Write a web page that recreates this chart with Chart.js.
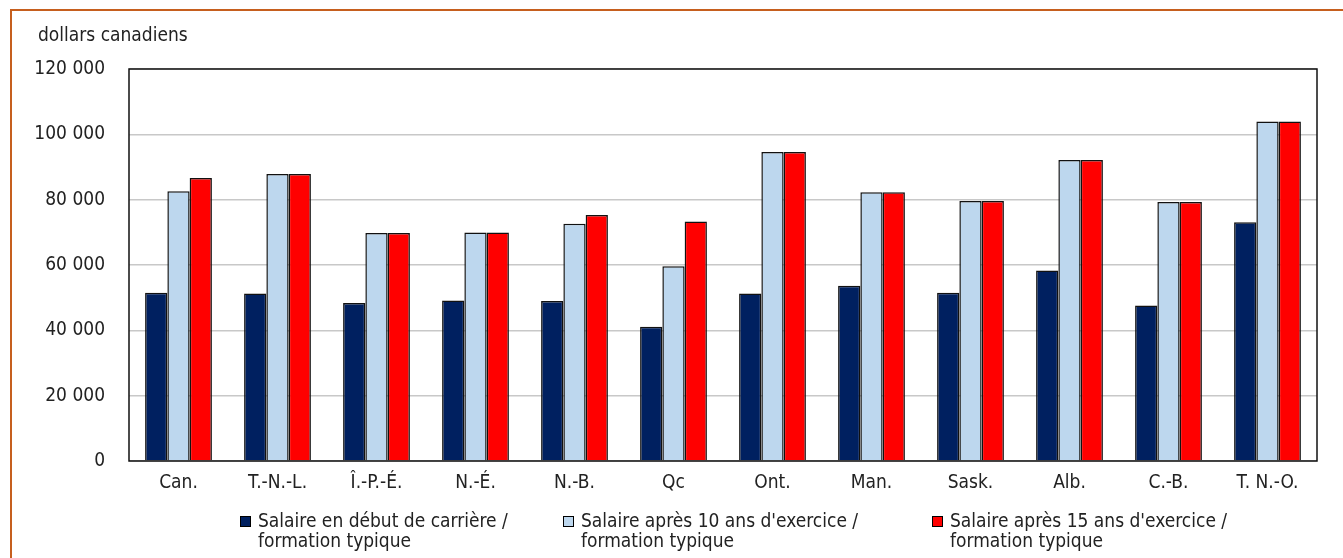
<!DOCTYPE html>
<html lang="fr">
<head>
<meta charset="utf-8">
<title>Salaires</title>
<script src="https://cdn.jsdelivr.net/npm/chart.js@4.4.1/dist/chart.umd.min.js"></script>
<style>
  html, body { margin: 0; padding: 0; background: #fff; overflow: hidden; }
  #frame {
    position: absolute; left: 10px; top: 9px; width: 2000px; height: 2000px;
    border-top: 2px solid #c65f1e; border-left: 2px solid #c65f1e;
  }
  #wrap { position: absolute; left: 0; top: 0; width: 1343px; height: 558px; }
</style>
</head>
<body>
<div id="frame"></div>
<div id="wrap"><canvas id="salaryChart" width="1343" height="558"></canvas></div>
<script>
const provinces = ['Can.', 'T.-N.-L.', 'Î.-P.-É.', 'N.-É.', 'N.-B.', 'Qc', 'Ont.', 'Man.', 'Sask.', 'Alb.', 'C.-B.', 'T. N.-O.'];

const startSalary = [51500, 51300, 48400, 49100, 48950, 41100, 51300, 53650, 51500, 58350, 47600, 73050];
const after10Years = [82550, 87850, 69800, 69950, 72650, 59650, 94600, 82250, 79600, 92150, 79300, 103900];
const after15Years = [86650, 87850, 69800, 69950, 75300, 73350, 94600, 82250, 79600, 92150, 79300, 103900];

const seriesLabels = [
  ['Salaire en début de carrière /', 'formation typique'],
  ['Salaire après 10 ans d\'exercice /', 'formation typique'],
  ['Salaire après 15 ans d\'exercice /', 'formation typique']
];

const FONT = '"Liberation Sans Narrow", "Arial Narrow", "DejaVu Sans Condensed", sans-serif';
const TEXT = '#222';

function spaced(v) {
  return String(v).replace(/\B(?=(\d{3})+(?!\d))/g, ' ');
}

// frame around the plot area + unit label + two-line legend
const decorations = {
  id: 'decorations',
  afterDraw(chart) {
    const ctx = chart.ctx;
    const a = chart.chartArea;
    ctx.save();
    ctx.strokeStyle = '#111';
    ctx.lineWidth = 1.5;
    ctx.strokeRect(Math.round(a.left), Math.round(a.top),
      Math.round(a.right - a.left), Math.round(a.bottom - a.top));

    ctx.fillStyle = TEXT;
    ctx.font = '19px ' + FONT;
    ctx.textBaseline = 'alphabetic';
    ctx.fillText('dollars canadiens', 38, 41);

    const itemX = [240, 563, 932];
    ctx.lineWidth = 1;
    chart.data.datasets.forEach((ds, i) => {
      const x = itemX[i];
      ctx.fillStyle = ds.backgroundColor;
      ctx.fillRect(x, 516, 11, 11);
      ctx.strokeStyle = '#000';
      ctx.strokeRect(x + 0.5, 516.5, 10, 10);
      ctx.fillStyle = TEXT;
      seriesLabels[i].forEach((line, j) => {
        ctx.fillText(line, x + 18, 527 + j * 20);
      });
    });
    ctx.restore();
  }
};

const data = {
  labels: provinces,
  datasets: [
    { label: seriesLabels[0].join(' '), data: startSalary, backgroundColor: '#002060' },
    { label: seriesLabels[1].join(' '), data: after10Years, backgroundColor: '#bdd7ee' },
    { label: seriesLabels[2].join(' '), data: after15Years, backgroundColor: '#ff0000' }
  ].map(ds => Object.assign(ds, {
    borderColor: '#111',
    borderWidth: 1.5,
    categoryPercentage: 0.675,
    barPercentage: 1
  }))
};

const config = {
  type: 'bar',
  data: data,
  options: {
    responsive: false,
    animation: false,
    layout: { padding: { left: 0, right: 26, top: 69, bottom: 0 } },
    plugins: {
      legend: { display: false },
      tooltip: { enabled: false }
    },
    scales: {
      x: {
        grid: { display: false, drawTicks: false },
        border: { display: false },
        ticks: { color: TEXT, font: { family: FONT, size: 19 }, padding: 11 },
        afterFit(scale) { scale.height = 97; }
      },
      y: {
        min: 0,
        max: 120000,
        grid: { color: '#c8c8c8', lineWidth: 1.5, drawTicks: false },
        border: { display: false },
        ticks: {
          stepSize: 20000,
          color: TEXT,
          font: { family: FONT, size: 19 },
          padding: 24,
          callback: v => spaced(v)
        },
        afterFit(scale) { scale.width = 129; }
      }
    }
  },
  plugins: [decorations]
};

const ctx = document.getElementById('salaryChart').getContext('2d');
const salaryChart = new Chart(ctx, config);
</script>
</body>
</html>
